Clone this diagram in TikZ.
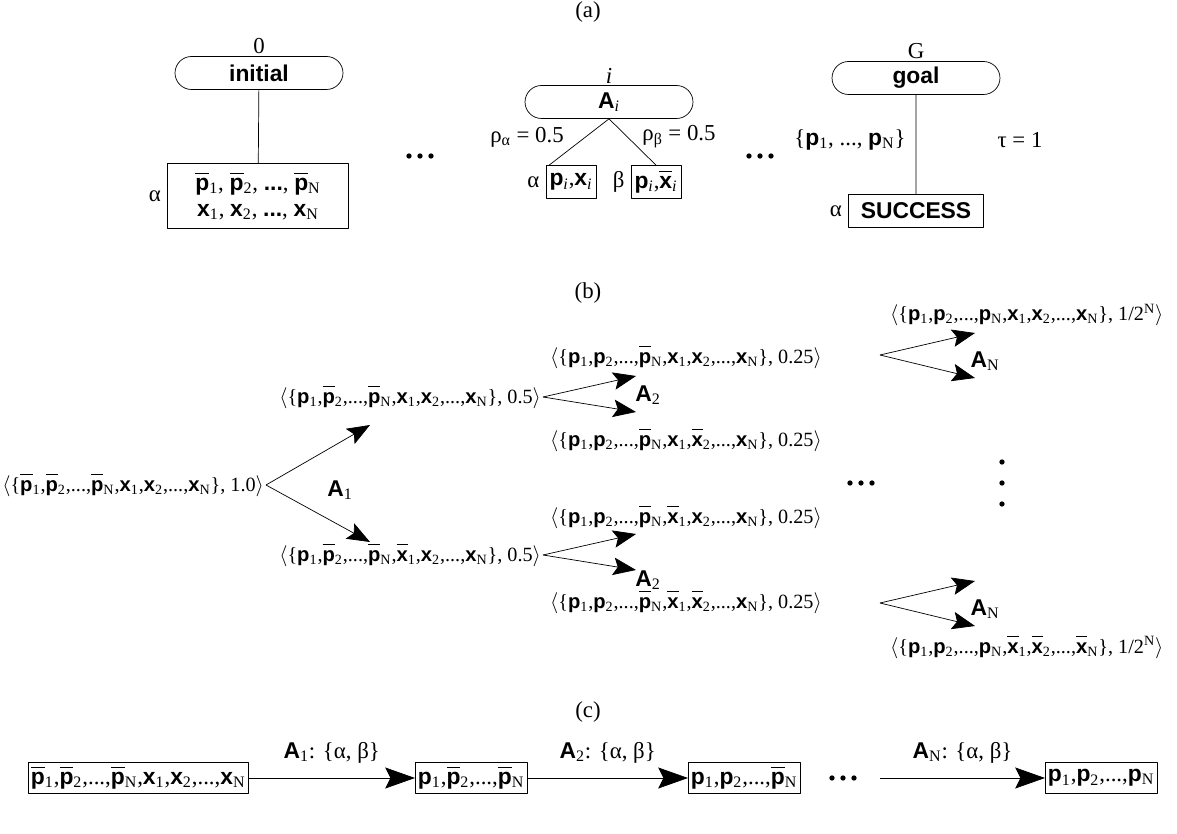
\documentclass[tikz,border=0pt]{standalone}
\usepackage{fontspec}
\setmainfont{Liberation Serif}
\newfontfamily\hv{Liberation Sans}
\usetikzlibrary{arrows.meta,shapes.misc}
\begin{document}
\begin{tikzpicture}[x=0.02cm,y=-0.02cm,>={Stealth[length=13pt,width=10pt,inset=2.5pt]},
  font=\fontsize{11.5}{13}\selectfont, line join=round,
  pill/.style={draw,rounded rectangle,minimum width=3.36cm,minimum height=0.66cm,inner sep=0pt,font=\hv\bfseries\fontsize{13}{15}\selectfont},
  cbox/.style={draw,inner sep=1.5pt,minimum height=0.62cm,font=\fontsize{13}{15}\selectfont},
  sbox/.style={draw,inner xsep=2pt,inner ysep=0pt,minimum height=0.66cm,font=\fontsize{13}{15}\selectfont},
  panel/.style={font=\fontsize{13}{15}\selectfont},
  big/.style={font=\fontsize{13}{15}\selectfont}]
\def\pv#1{{\hv\bfseries p}\textsubscript{#1}}
\def\pn#1{$\overline{\vphantom{I}\hbox{\hv\bfseries p}}$\textsubscript{#1}}
\def\xv#1{{\hv\bfseries x}\textsubscript{#1}}
\def\xn#1{$\overline{\vphantom{I}\hbox{\hv\bfseries x}}$\textsubscript{#1}}
\def\act#1{{\hv\bfseries A}\textsubscript{#1}}
\def\dots#1#2{\foreach \k in {-11,0,11} \fill (#1+\k,#2) circle (1.5pt);}
\useasboundingbox (0,0) rectangle (1177,834);
% (a) domain
\node[panel] (la) at (588,12) {(a)};
\node[pill,label={[panel,inner sep=1pt]above:0}] (init) at (259,73) {initial};
\node[draw,minimum width=3.62cm,minimum height=1.3cm,align=center,inner sep=1pt,big,
  label={[panel]left:α}] (ibox) at (258,196)
  {\pn1, \pn2, {\hv\bfseries...}, \pn{N}\\ \xv1, \xv2, {\hv\bfseries...}, \xv{N}};
\draw (init) -- (ibox);
\dots{420}{156}
\node[pill,label={[panel,inner sep=1pt]above:{\itshape i}}] (ai) at (609,102) {A\textsubscript{\rmfamily\mdseries\itshape i}};
\node[sbox,label={[panel]left:α}] (ba) at (571,182) {\pv{\itshape i},\xv{\itshape i}};
\node[sbox,label={[panel]left:β}] (bb) at (656,182) {\pv{\itshape i},\xn{\itshape i}};
\draw (ai.south) -- ([xshift=2pt]ba.north west) (ai.south) -- (bb.north);
\node[panel] (ra) at (527,137) {ρ\textsubscript{α} = 0.5};
\node[panel] (rb) at (679,137) {ρ\textsubscript{β} = 0.5};
\dots{760}{156}
\node[pill,label={[panel,inner sep=1pt]above:G}] (goal) at (916,78) {goal};
\node[draw,minimum width=2.7cm,minimum height=0.66cm,font=\hv\bfseries\fontsize{13}{15}\selectfont,
  label={[panel]left:α}] (succ) at (916,211) {SUCCESS};
\draw (goal) -- (succ);
\node[panel] (set) at (850,140) {\{\pv1, ..., \pv{N}\}};
\node[panel] (tau) at (1020,140) {τ = 1};
% (b) progression
\node[panel] (lb) at (588,293) {(b)};
\node[anchor=east,inner sep=1pt] (s0) at (266,485) {$\langle$\{\pn1,\pn2,...,\pn{N},\xv1,\xv2,...,\xv{N}\}, 1.0$\rangle$};
\node[anchor=east,inner sep=1pt] (s1u) at (543,397) {$\langle$\{\pv1,\pn2,...,\pn{N},\xv1,\xv2,...,\xv{N}\}, 0.5$\rangle$};
\node[anchor=east,inner sep=1pt] (s1d) at (543,555) {$\langle$\{\pv1,\pn2,...,\pn{N},\xn1,\xv2,...,\xv{N}\}, 0.5$\rangle$};
\node[anchor=west,inner sep=1pt] (s2a) at (548,357) {$\langle$\{\pv1,\pv2,...,\pn{N},\xv1,\xv2,...,\xv{N}\}, 0.25$\rangle$};
\node[anchor=west,inner sep=1pt] (s2b) at (548,440) {$\langle$\{\pv1,\pv2,...,\pn{N},\xv1,\xn2,...,\xv{N}\}, 0.25$\rangle$};
\node[anchor=west,inner sep=1pt] (s2c) at (548,517) {$\langle$\{\pv1,\pv2,...,\pn{N},\xn1,\xv2,...,\xv{N}\}, 0.25$\rangle$};
\node[anchor=west,inner sep=1pt] (s2d) at (548,602) {$\langle$\{\pv1,\pv2,...,\pn{N},\xn1,\xn2,...,\xv{N}\}, 0.25$\rangle$};
\node[anchor=west,inner sep=1pt] (sna) at (888,315) {$\langle$\{\pv1,\pv2,...,\pv{N},\xv1,\xv2,...,\xv{N}\}, 1/2\textsuperscript{N}$\rangle$};
\node[anchor=west,inner sep=1pt] (snb) at (888,647) {$\langle$\{\pv1,\pv2,...,\pv{N},\xn1,\xn2,...,\xn{N}\}, 1/2\textsuperscript{N}$\rangle$};
\coordinate (t1u) at (370,425); \coordinate (t1d) at (370,542);
\draw[->] (s0.east) -- (t1u); \draw[->] (s0.east) -- (t1d);
\node[big] (a1) at (340,490) {\act1};
\foreach \s/\y/\ly in {s1u/397/395,s1d/555/580}{
  \draw[->] (\s.east) -- (636,\y-21);
  \draw[->] (\s.east) -- (636,\y+15);
  \node[big] at (648,\ly) {\act2};}
\foreach \y in {355,603}{
  \coordinate (an) at (880,\y);
  \draw[->] (an) -- (975,\y-22); \draw[->] (an) -- (975,\y+23);
  \node[big] at (985,\y+6) {\act{N}};}
\dots{861}{483}
\foreach \y in {462,483,504} \fill (1002,\y) circle (1.5pt);
% (c) relaxed plan
\node[panel] (lc) at (588,712) {(c)};
\node[cbox,anchor=west] (c1) at (28,778) {\pn1,\pn2,...,\pn{N},\xv1,\xv2,...,\xv{N}};
\node[cbox,anchor=west] (c2) at (415,778) {\pv1,\pn2,...,\pn{N}};
\node[cbox,anchor=west] (c3) at (688,778) {\pv1,\pv2,...,\pn{N}};
\node[cbox,anchor=west] (c4) at (1045,778) {\pv1,\pv2,...,\pv{N}};
\begin{scope}[>={Stealth[length=17pt,width=12pt,inset=3pt]}]
\draw[->] (c1) -- node[above=5pt,panel]{\act1: \{α, β\}} (c2);
\draw[->] (c2) -- node[above=5pt,panel]{\act2: \{α, β\}} (c3);
\dots{843}{778}
\coordinate (c3e) at (880,778);
\draw[->] (c3e) -- node[above=5pt,panel]{\act{N}: \{α, β\}} (c4);
\end{scope}
\end{tikzpicture}
\end{document}
